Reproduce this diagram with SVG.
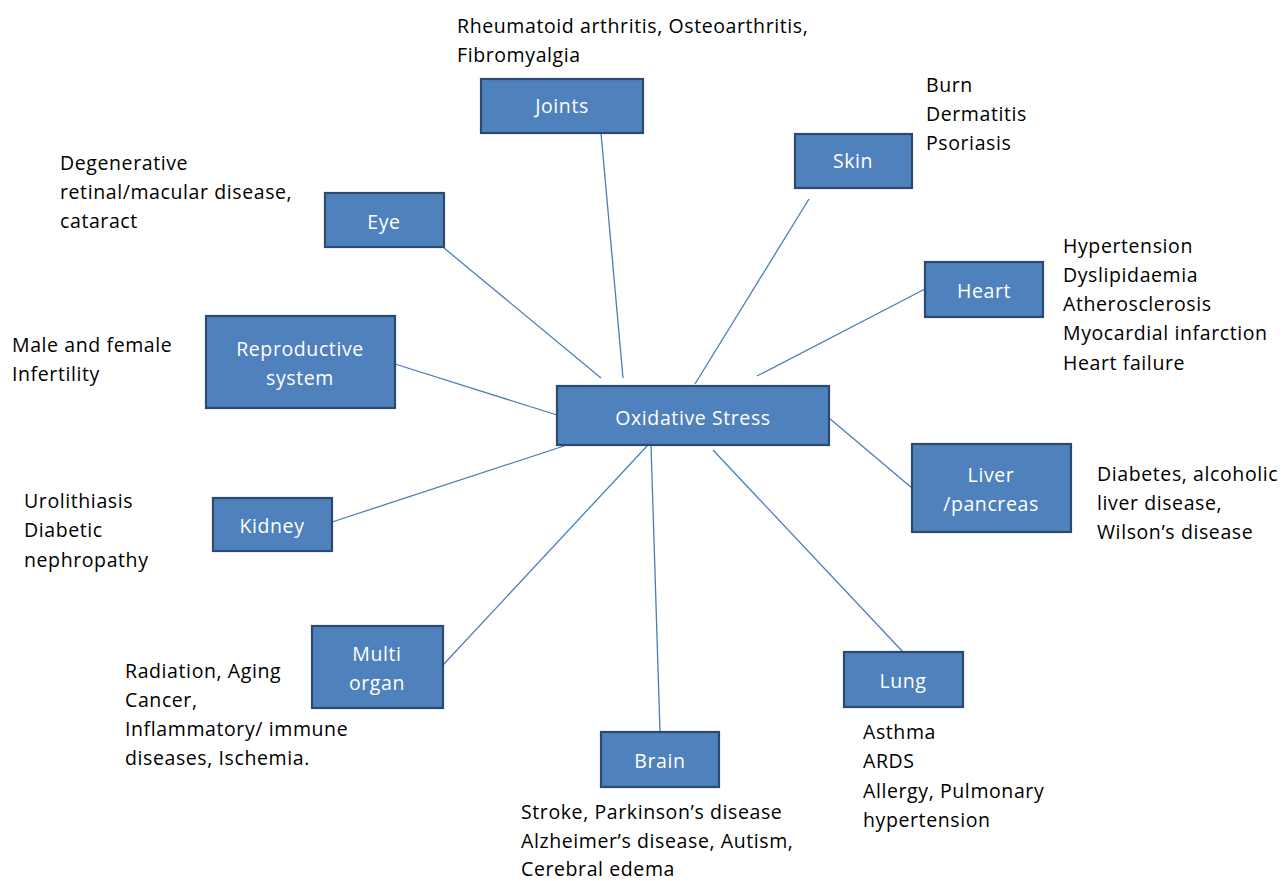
<svg xmlns="http://www.w3.org/2000/svg" width="1282" height="881" viewBox="0 0 1282 881">
<style>
text{font-family:"Open Sans","DejaVu Sans",sans-serif;font-size:19.5px;letter-spacing:0.6px}
.lbl{fill:#000}
.box rect{fill:#4F81BD;stroke:#2C4A70;stroke-width:2.2}
.box text{fill:#fff;text-anchor:middle}
#connectors line{stroke:#4A7EBB;stroke-width:1.3}
</style>
<rect width="1282" height="881" fill="#fff"/>
<g id="connectors">
<line x1="601" y1="133" x2="623" y2="378"/>
<line x1="809" y1="199" x2="695" y2="384"/>
<line x1="444" y1="248" x2="601" y2="378"/>
<line x1="925" y1="289" x2="757" y2="376"/>
<line x1="395" y1="364" x2="557" y2="415"/>
<line x1="829" y1="418" x2="912" y2="488"/>
<line x1="332" y1="522" x2="567" y2="445"/>
<line x1="443" y1="665" x2="648" y2="445"/>
<line x1="660" y1="732" x2="651" y2="445"/>
<line x1="903" y1="652" x2="713" y2="450"/>
</g>
<g id="oxidative" class="box"><rect x="557" y="386" width="272" height="59"/><text x="693" y="425">Oxidative Stress</text></g>
<g id="joints" class="box"><rect x="481" y="79" width="162" height="54"/><text x="562" y="113">Joints</text></g>
<g id="skin" class="box"><rect x="795" y="134" width="117" height="54"/><text x="853" y="168">Skin</text></g>
<g id="eye" class="box"><rect x="325" y="193" width="119" height="54"/><text x="384" y="229">Eye</text></g>
<g id="heart" class="box"><rect x="925" y="262" width="118" height="55"/><text x="984" y="298">Heart</text></g>
<g id="reproductive" class="box"><rect x="206" y="316" width="189" height="92"/><text x="300" y="356">Reproductive</text><text x="300" y="385">system</text></g>
<g id="liver" class="box"><rect x="912" y="444" width="159" height="88"/><text x="991" y="482">Liver</text><text x="991" y="511">/pancreas</text></g>
<g id="kidney" class="box"><rect x="213" y="498" width="119" height="53"/><text x="272" y="533">Kidney</text></g>
<g id="multi" class="box"><rect x="312" y="626" width="131" height="82"/><text x="377" y="661">Multi</text><text x="377" y="690">organ</text></g>
<g id="lung" class="box"><rect x="844" y="652" width="119" height="55"/><text x="903" y="688">Lung</text></g>
<g id="brain" class="box"><rect x="601" y="732" width="118" height="55"/><text x="660" y="768">Brain</text></g>
<g id="labels" class="lbl">
<text x="457" y="33">Rheumatoid arthritis, Osteoarthritis,</text>
<text x="457" y="62">Fibromyalgia</text>
<text x="926" y="92">Burn</text>
<text x="926" y="121">Dermatitis</text>
<text x="926" y="150">Psoriasis</text>
<text x="60" y="170">Degenerative</text>
<text x="60" y="199">retinal/macular disease,</text>
<text x="60" y="228">cataract</text>
<text x="1063" y="253">Hypertension</text>
<text x="1063" y="282">Dyslipidaemia</text>
<text x="1063" y="311">Atherosclerosis</text>
<text x="1063" y="340">Myocardial infarction</text>
<text x="1063" y="370">Heart failure</text>
<text x="12" y="352">Male and female</text>
<text x="12" y="381">Infertility</text>
<text x="1097" y="481">Diabetes, alcoholic</text>
<text x="1097" y="510">liver disease,</text>
<text x="1097" y="539">Wilson’s disease</text>
<text x="24" y="508">Urolithiasis</text>
<text x="24" y="537">Diabetic</text>
<text x="24" y="567">nephropathy</text>
<text x="125" y="678">Radiation, Aging</text>
<text x="125" y="707">Cancer,</text>
<text x="125" y="736">Inflammatory/ immune</text>
<text x="125" y="765">diseases, Ischemia.</text>
<text x="863" y="739">Asthma</text>
<text x="863" y="768">ARDS</text>
<text x="863" y="798">Allergy, Pulmonary</text>
<text x="863" y="827">hypertension</text>
<text x="521" y="819">Stroke, Parkinson’s disease</text>
<text x="521" y="848">Alzheimer’s disease, Autism,</text>
<text x="521" y="876">Cerebral edema</text>
</g>
</svg>
